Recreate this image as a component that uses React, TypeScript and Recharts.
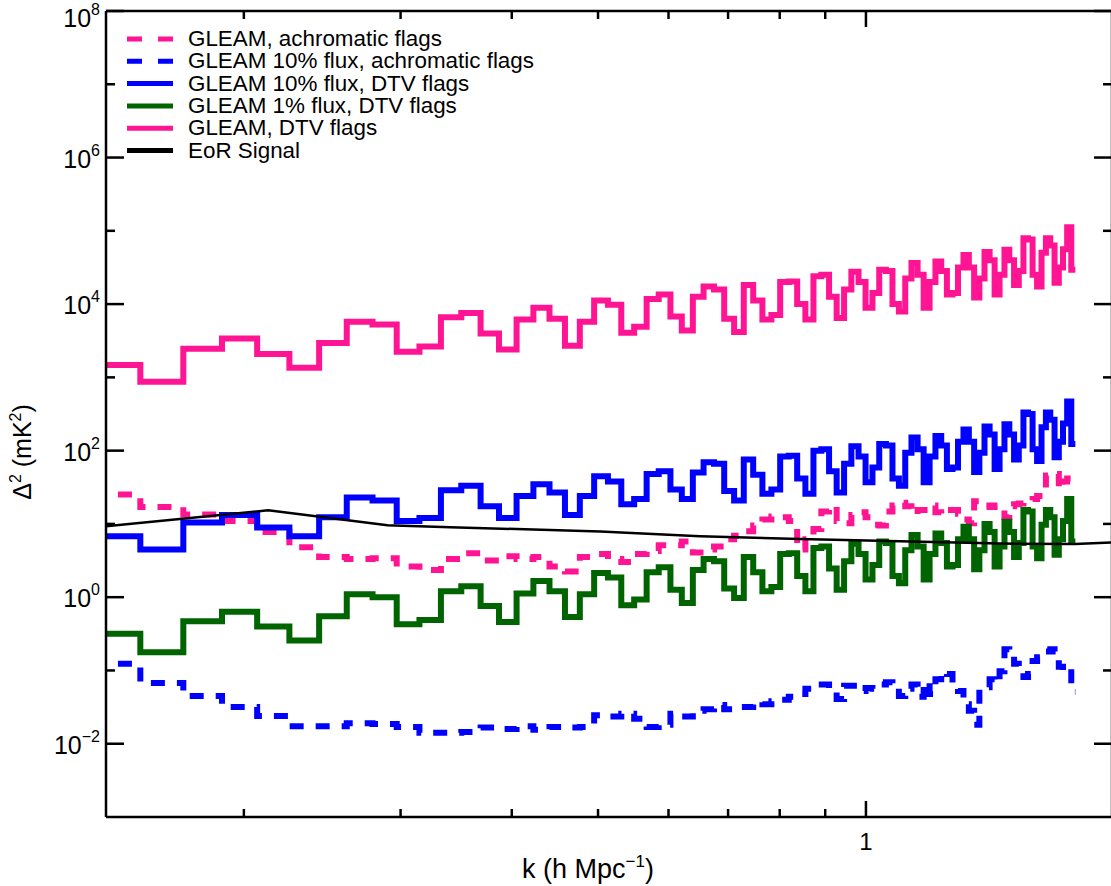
import React from 'react';
import { ComposedChart, Line, XAxis, YAxis, Legend } from 'recharts';

const FONT = '"Liberation Sans", Arial, Helvetica, sans-serif';
const PINK = '#FF1493';
const BLUE = '#0000FF';
const GREEN = '#006400';
const BLACK = '#000000';

// k bin edges (h Mpc^-1): left edge of each bin, the last entry closes the final bin
const kEdges = [
  0.135, 0.153, 0.171, 0.189, 0.207, 0.225, 0.243, 0.261, 0.279, 0.297,
  0.315, 0.333, 0.351, 0.369, 0.387, 0.405, 0.423, 0.441, 0.459, 0.477,
  0.495, 0.513, 0.531, 0.549, 0.567, 0.585, 0.603, 0.621, 0.639, 0.657,
  0.675, 0.693, 0.711, 0.729, 0.747, 0.765, 0.783, 0.801, 0.819, 0.837,
  0.855, 0.873, 0.891, 0.909, 0.927, 0.945, 0.963, 0.981, 0.999, 1.017,
  1.035, 1.053, 1.071, 1.089, 1.107, 1.125, 1.143, 1.161, 1.179, 1.197,
  1.215, 1.233, 1.251, 1.269, 1.287, 1.305, 1.323, 1.341, 1.359, 1.377,
  1.395, 1.413, 1.431, 1.449, 1.467, 1.485, 1.503, 1.521, 1.539, 1.557,
  1.575, 1.593, 1.611, 1.629, 1.647, 1.665, 1.683, 1.701, 1.719,
];

// log10 of Delta^2 (mK^2) per k bin
const gleamDtvLog = [
  3.17, 2.94, 3.39, 3.53, 3.32, 3.13, 3.47, 3.76, 3.72, 3.35,
  3.42, 3.82, 3.88, 3.60, 3.38, 3.79, 3.95, 3.80, 3.43, 3.76,
  4.05, 3.99, 3.61, 3.69, 4.07, 4.13, 3.83, 3.64, 4.10, 4.24,
  4.20, 3.80, 3.62, 4.26, 4.05, 3.79, 3.85, 4.30, 4.31, 4.00,
  3.79, 4.38, 4.40, 4.10, 3.81, 4.20, 4.44, 4.30, 3.95, 4.15,
  4.47, 4.45, 4.00, 3.90, 4.35, 4.56, 4.40, 3.95, 4.30, 4.58,
  4.45, 4.13, 4.15, 4.50, 4.67, 4.50, 4.09, 4.35, 4.71, 4.60,
  4.13, 4.40, 4.74, 4.60, 4.26, 4.45, 4.90, 4.88, 4.40, 4.24,
  4.70, 4.90, 4.80, 4.29, 4.50, 4.75, 5.05, 4.47,
];

const gleam10DtvLog = [
  0.83, 0.65, 1.02, 1.12, 0.95, 0.83, 1.09, 1.36, 1.32, 1.04,
  1.08, 1.46, 1.52, 1.24, 1.08, 1.38, 1.54, 1.43, 1.12, 1.38,
  1.65, 1.58, 1.27, 1.34, 1.68, 1.72, 1.47, 1.34, 1.70, 1.84,
  1.82, 1.45, 1.32, 1.88, 1.67, 1.41, 1.47, 1.92, 1.93, 1.62,
  1.41, 2.00, 2.02, 1.72, 1.43, 1.82, 2.06, 1.92, 1.57, 1.77,
  2.09, 2.07, 1.62, 1.52, 1.97, 2.18, 2.02, 1.57, 1.92, 2.20,
  2.07, 1.75, 1.77, 2.12, 2.29, 2.12, 1.71, 1.97, 2.33, 2.22,
  1.75, 2.02, 2.36, 2.22, 1.88, 2.07, 2.52, 2.50, 2.02, 1.86,
  2.32, 2.52, 2.42, 1.91, 2.12, 2.37, 2.67, 2.09,
];

const gleam1DtvLog = [
  -0.50, -0.75, -0.33, -0.20, -0.40, -0.59, -0.26, 0.04, 0.00, -0.37,
  -0.31, 0.08, 0.15, -0.12, -0.34, 0.05, 0.22, 0.08, -0.27, 0.04,
  0.33, 0.27, -0.11, -0.03, 0.34, 0.41, 0.10, -0.08, 0.37, 0.52,
  0.49, 0.12, -0.01, 0.55, 0.34, 0.08, 0.14, 0.59, 0.60, 0.29,
  0.08, 0.67, 0.69, 0.39, 0.10, 0.49, 0.73, 0.59, 0.24, 0.44,
  0.76, 0.74, 0.29, 0.19, 0.64, 0.85, 0.69, 0.24, 0.59, 0.87,
  0.74, 0.42, 0.44, 0.79, 0.96, 0.79, 0.38, 0.64, 1.00, 0.89,
  0.42, 0.69, 1.03, 0.89, 0.55, 0.74, 1.19, 1.17, 0.69, 0.53,
  0.99, 1.19, 1.09, 0.58, 0.79, 1.04, 1.34, 0.76,
];

const gleamAchroLog = [
  1.40, 1.23, 1.13, 1.04, 0.89, 0.68, 0.55, 0.52, 0.53, 0.42,
  0.37, 0.52, 0.60, 0.50, 0.56, 0.52, 0.55, 0.42, 0.35, 0.55,
  0.59, 0.52, 0.48, 0.59, 0.63, 0.71, 0.71, 0.76, 0.61, 0.65,
  0.69, 0.79, 0.84, 0.90, 0.98, 1.06, 1.10, 1.09, 1.04, 0.65,
  0.79, 0.93, 1.17, 1.24, 1.04, 1.01, 1.12, 1.16, 1.09, 0.99,
  0.98, 1.17, 1.25, 1.29, 1.24, 1.13, 1.19, 1.19, 1.25, 1.16,
  1.13, 1.19, 1.19, 1.14, 1.06, 1.01, 1.31, 1.29, 1.25, 1.23,
  1.25, 1.23, 1.09, 1.24, 1.27, 1.28, 1.31, 1.31, 1.34, 1.38,
  1.38, 1.66, 1.69, 1.68, 1.47, 1.58, 1.62, 1.59,
];

const gleam10AchroLog = [
  -0.91, -1.17, -1.35, -1.50, -1.62, -1.76, -1.76, -1.72, -1.73, -1.77,
  -1.85, -1.85, -1.84, -1.78, -1.80, -1.76, -1.81, -1.77, -1.78, -1.77,
  -1.61, -1.63, -1.59, -1.66, -1.77, -1.74, -1.59, -1.63, -1.55, -1.53,
  -1.47, -1.53, -1.50, -1.50, -1.43, -1.46, -1.42, -1.40, -1.36, -1.32,
  -1.25, -1.19, -1.19, -1.28, -1.39, -1.21, -1.21, -1.28, -1.24, -1.25,
  -1.19, -1.16, -1.25, -1.35, -1.25, -1.19, -1.36, -1.16, -1.32, -1.12,
  -1.02, -1.05, -1.23, -1.28, -1.46, -1.55, -1.74, -1.25, -1.23, -1.12,
  -1.17, -1.01, -0.71, -0.78, -0.91, -0.95, -1.09, -1.05, -0.87, -0.82,
  -0.78, -0.74, -0.71, -0.74, -0.95, -1.01, -0.98, -1.29,
];

// EoR signal model
const eorK = [0.14, 0.213, 0.29, 0.341, 0.503, 0.651, 0.843, 1.092, 1.414, 1.717, 1.89];
const eorValues = [9.3, 15.3, 9.6, 9.0, 7.9, 6.8, 6.2, 5.8, 5.4, 5.3, 5.6];

const xTicks = [0.2, 0.3, 0.4, 0.5, 0.6, 0.7, 0.8, 0.9, 1];
const yTicks = [1e-2, 1e-1, 1, 1e1, 1e2, 1e3, 1e4, 1e5, 1e6, 1e7, 1e8];
const X_DOMAIN = [0.14, 1.89];
const Y_DOMAIN = [1e-3, 1e8];

const legendItems = [
  { name: 'GLEAM, achromatic flags', color: PINK, dash: '15 16' },
  { name: 'GLEAM 10% flux, achromatic flags', color: BLUE, dash: '15 16' },
  { name: 'GLEAM 10% flux, DTV flags', color: BLUE, dash: undefined },
  { name: 'GLEAM 1% flux, DTV flags', color: GREEN, dash: undefined },
  { name: 'GLEAM, DTV flags', color: PINK, dash: undefined },
  { name: 'EoR Signal', color: BLACK, dash: undefined },
];

const pick = (arr: number[], i: number) => Math.pow(10, arr[Math.min(i, arr.length - 1)]);

const histRows = kEdges.map((k, i) => ({
  k,
  achro: pick(gleamAchroLog, i),
  achro10: pick(gleam10AchroLog, i),
  dtv10: pick(gleam10DtvLog, i),
  dtv1: pick(gleam1DtvLog, i),
  dtv: pick(gleamDtvLog, i),
}));

const eorRows = eorK.map((k, i) => ({ k, eor: eorValues[i] }));

const AX = { stroke: '#000', strokeWidth: 2.5 };

const expOf = (v: number) => Math.round(Math.log10(v));

const LeftTick = (p: any) => {
  const { x, y, payload } = p;
  const e = expOf(payload.value);
  const major = e % 2 === 0;
  return (
    <g>
      <line x1={x} y1={y} x2={x + (major ? 18 : 9)} y2={y} stroke="#000" strokeWidth={2.5} />
      {major && (
        <text x={x - 6} y={Math.max(y + 10, 27)} textAnchor="end" fontFamily={FONT} fontSize={25} fill="#000">
          10
          <tspan dy={-12} fontSize={16}>{e < 0 ? '\u2212' + -e : String(e)}</tspan>
        </text>
      )}
    </g>
  );
};

const RightTick = (p: any) => {
  const { x, y, payload } = p;
  const e = expOf(payload.value);
  const major = e % 2 === 0;
  return <line x1={x} y1={y} x2={x - (major ? 18 : 9)} y2={y} stroke="#000" strokeWidth={2.5} />;
};

const BottomTick = (p: any) => {
  const { x, y, payload } = p;
  const major = Math.abs(payload.value - 1) < 1e-9;
  return (
    <g>
      <line x1={x} y1={y} x2={x} y2={y - (major ? 16 : 8)} stroke="#000" strokeWidth={2.5} />
      {major && (
        <text x={x} y={y + 33} textAnchor="middle" fontFamily={FONT} fontSize={24} fill="#000">
          1
        </text>
      )}
    </g>
  );
};

const TopTick = (p: any) => {
  const { x, y, payload } = p;
  const major = Math.abs(payload.value - 1) < 1e-9;
  return <line x1={x} y1={y} x2={x} y2={y + (major ? 16 : 8)} stroke="#000" strokeWidth={2.5} />;
};

const XTitle = (props: any) => {
  const vb = props.viewBox || { x: 106, y: 817 };
  return (
    <text x={vb.x + 482} y={vb.y + 61} textAnchor="middle" fontFamily={FONT} fontSize={27} fill="#000">
      k (h Mpc
      <tspan dy={-11} fontSize={17}>{'\u22121'}</tspan>
      <tspan dy={11}>)</tspan>
    </text>
  );
};

const YTitle = () => (
  <text transform="translate(31,452) rotate(-90)" textAnchor="middle" fontFamily={FONT} fontSize={25} fill="#000">
    {'\u0394'}
    <tspan dy={-10} fontSize={16}>2</tspan>
    <tspan dy={10}> (mK</tspan>
    <tspan dy={-10} fontSize={16}>2</tspan>
    <tspan dy={10}>)</tspan>
  </text>
);

const renderLegend = () => (
  <svg width={440} height={150} style={{ display: 'block', overflow: 'visible' }}>
    {legendItems.map((it, i) => {
      const cy = 14 + i * 22.3;
      return (
        <g key={it.name}>
          <line x1={7} x2={53} y1={cy} y2={cy} stroke={it.color} strokeWidth={5} strokeDasharray={it.dash} />
          <text x={68} y={cy + 7} fontFamily={FONT} fontSize={22.4} fill="#000">
            {it.name}
          </text>
        </g>
      );
    })}
  </svg>
);

export default function App() {
  return (
    <div style={{ position: 'absolute', left: 0, top: 0, width: 1111, height: 886, overflow: 'hidden', background: '#fff' }}>
      <ComposedChart width={1113} height={886} data={histRows} margin={{ top: 10, right: 0, bottom: 0, left: 0 }}>
        <XAxis
          xAxisId="b"
          dataKey="k"
          type="number"
          scale="log"
          domain={X_DOMAIN}
          allowDataOverflow
          ticks={xTicks}
          interval={0}
          height={69}
          tickSize={0}
          tickMargin={0}
          tickLine={false}
          axisLine={AX}
          tick={BottomTick}
          label={XTitle}
        />
        <XAxis
          xAxisId="t"
          orientation="top"
          dataKey="k"
          type="number"
          scale="log"
          domain={X_DOMAIN}
          allowDataOverflow
          ticks={xTicks}
          interval={0}
          height={1}
          tickSize={0}
          tickMargin={0}
          tickLine={false}
          axisLine={AX}
          tick={TopTick}
        />
        <YAxis
          yAxisId="l"
          type="number"
          scale="log"
          domain={Y_DOMAIN}
          allowDataOverflow
          ticks={yTicks}
          interval={0}
          width={106}
          tickSize={0}
          tickMargin={0}
          tickLine={false}
          axisLine={AX}
          tick={LeftTick}
          label={YTitle}
        />
        <YAxis
          yAxisId="r"
          orientation="right"
          type="number"
          scale="log"
          domain={Y_DOMAIN}
          allowDataOverflow
          ticks={yTicks}
          interval={0}
          width={1}
          tickSize={0}
          tickMargin={0}
          tickLine={false}
          axisLine={AX}
          tick={RightTick}
        />
        <Legend
          layout="vertical"
          align="center"
          verticalAlign="middle"
          content={renderLegend}
          wrapperStyle={{ left: 120, top: 25, width: 440, height: 150 }}
        />
        <Line xAxisId="b" yAxisId="l" type="stepAfter" dataKey="achro" name="GLEAM, achromatic flags" stroke={PINK} strokeWidth={6} strokeDasharray="14 12" dot={false} activeDot={false} isAnimationActive={false} />
        <Line xAxisId="b" yAxisId="l" type="stepAfter" dataKey="achro10" name="GLEAM 10% flux, achromatic flags" stroke={BLUE} strokeWidth={6} strokeDasharray="14 12" dot={false} activeDot={false} isAnimationActive={false} />
        <Line xAxisId="b" yAxisId="l" type="stepAfter" dataKey="dtv10" name="GLEAM 10% flux, DTV flags" stroke={BLUE} strokeWidth={6} dot={false} activeDot={false} isAnimationActive={false} />
        <Line xAxisId="b" yAxisId="l" type="stepAfter" dataKey="dtv1" name="GLEAM 1% flux, DTV flags" stroke={GREEN} strokeWidth={6} dot={false} activeDot={false} isAnimationActive={false} />
        <Line xAxisId="b" yAxisId="l" type="stepAfter" dataKey="dtv" name="GLEAM, DTV flags" stroke={PINK} strokeWidth={6} dot={false} activeDot={false} isAnimationActive={false} />
        <Line xAxisId="b" yAxisId="l" data={eorRows} type="linear" dataKey="eor" name="EoR Signal" stroke={BLACK} strokeWidth={2.5} dot={false} activeDot={false} isAnimationActive={false} />
      </ComposedChart>
    </div>
  );
}
